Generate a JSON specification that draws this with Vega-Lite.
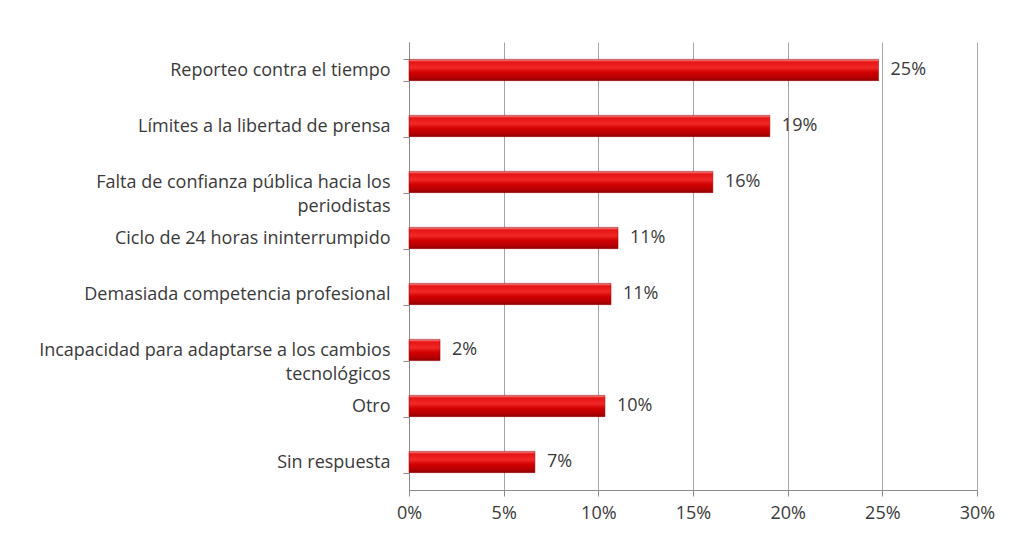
{
  "$schema": "https://vega.github.io/schema/vega-lite/v6.json",
  "width": 568,
  "height": 448,
  "autosize": {"type": "none"},
  "padding": {"left": 409, "top": 42, "right": 35, "bottom": 60},
  "background": "white",
  "data": {
    "values": [
      {"category": "Reporteo contra el tiempo", "value": 0.248},
      {"category": "Límites a la libertad de prensa", "value": 0.1906},
      {"category": "Falta de confianza pública hacia los|periodistas", "value": 0.1605},
      {"category": "Ciclo de 24 horas ininterrumpido", "value": 0.1104},
      {"category": "Demasiada competencia profesional", "value": 0.1067},
      {"category": "Incapacidad para adaptarse a los cambios|tecnológicos", "value": 0.0164},
      {"category": "Otro", "value": 0.1035},
      {"category": "Sin respuesta", "value": 0.0665}
    ]
  },
  "config": {
    "view": {"stroke": null},
    "font": "Open Sans",
    "axis": {
      "labelFont": "Open Sans",
      "labelFontSize": 18,
      "labelColor": "#3a3a3a",
      "domainColor": "#8c8c8c",
      "tickColor": "#8c8c8c",
      "gridColor": "#a6a6a6",
      "title": null
    }
  },
  "encoding": {
    "y": {
      "field": "category",
      "type": "nominal",
      "sort": null,
      "scale": {"paddingInner": 0.62, "paddingOuter": 0.31},
      "axis": {
        "tickBand": "extent",
        "tickSize": 6,
        "labelPadding": 13,
        "labelLimit": 0,
        "labelExpr": "split(datum.label, '|')",
        "labelLineHeight": 24,
        "grid": false
      }
    }
  },
  "layer": [
    {
      "mark": {
        "type": "bar",
        "color": {
          "gradient": "linear",
          "x1": 0, "y1": 0, "x2": 0, "y2": 1,
          "stops": [
            {"offset": 0, "color": "#f3a3a3"},
            {"offset": 0.12, "color": "#e81414"},
            {"offset": 0.4, "color": "#f02828"},
            {"offset": 0.6, "color": "#d20202"},
            {"offset": 0.88, "color": "#b20000"},
            {"offset": 1, "color": "#8a0000"}
          ]
        },
        "stroke": "#a00000",
        "strokeWidth": 0.5
      },
      "encoding": {
        "x": {
          "field": "value",
          "type": "quantitative",
          "scale": {"domain": [0, 0.3], "nice": false},
          "axis": {
            "format": ".0%",
            "values": [0, 0.05, 0.1, 0.15, 0.2, 0.25, 0.3],
            "labelOverlap": false,
            "labelFlush": false,
            "grid": true,
            "tickSize": 6,
            "labelPadding": 8
          }
        }
      }
    },
    {
      "mark": {"type": "text", "align": "left", "baseline": "middle", "dx": 12, "fontSize": 18, "font": "Open Sans", "color": "#3a3a3a"},
      "encoding": {
        "x": {"field": "value", "type": "quantitative"},
        "text": {"field": "value", "type": "quantitative", "format": ".0%"}
      }
    }
  ]
}
